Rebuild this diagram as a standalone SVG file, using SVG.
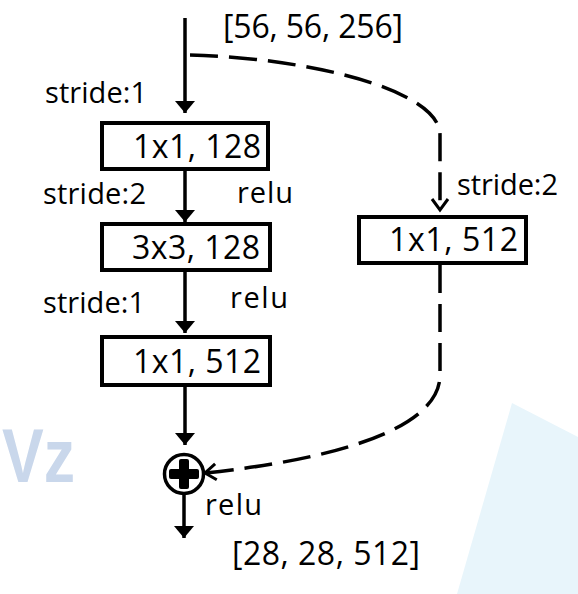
<svg xmlns="http://www.w3.org/2000/svg" width="578" height="594" viewBox="0 0 578 594">
  <style>
    .box { fill: #ffffff; stroke: #000000; stroke-width: 4; }
    .lbl { font-family: "Open Sans", "Noto Sans", sans-serif; font-size: 29px; fill: #000000; }
    .big { font-family: "Open Sans", "Noto Sans", sans-serif; font-size: 32px; fill: #000000; }
    .solid { fill: none; stroke: #000000; stroke-width: 3.5; }
    .dash { fill: none; stroke: #000000; stroke-width: 3.5; stroke-dasharray: 28 11; }
    .wm { font-family: "Liberation Sans", sans-serif; font-weight: bold; font-size: 76px; fill: #c9d7eb; }
  </style>
  <defs>
    <marker id="tri" viewBox="0 0 12 20" refX="12" refY="10" markerWidth="12" markerHeight="20" markerUnits="userSpaceOnUse" orient="auto">
      <path d="M0,0 L12,10 L0,20 Z" fill="#000000"/>
    </marker>
    <marker id="vee" viewBox="0 0 12 18" refX="11" refY="9" markerWidth="12" markerHeight="18" markerUnits="userSpaceOnUse" orient="auto" overflow="visible">
      <path d="M0,1 L11,9 L0,17" fill="none" stroke="#000000" stroke-width="3"/>
    </marker>
  </defs>

  <rect width="578" height="594" fill="#ffffff"/>
  <g id="background">
    <polygon points="512,403 578,437 578,594 457,594" fill="#e8f5fb"/>
    <text class="wm" x="2" y="482" textLength="73" lengthAdjust="spacingAndGlyphs">Vz</text>
  </g>

  <g id="connectors">
    <line class="solid" x1="185" y1="18" x2="185" y2="113" marker-end="url(#tri)"/>
    <line class="solid" x1="185" y1="171" x2="185" y2="222" marker-end="url(#tri)"/>
    <line class="solid" x1="185" y1="272" x2="185" y2="333" marker-end="url(#tri)"/>
    <line class="solid" x1="185" y1="387" x2="185" y2="445" marker-end="url(#tri)"/>
    <line class="solid" x1="184" y1="494" x2="184" y2="538" marker-end="url(#tri)"/>
    <path class="dash" d="M190,55 C310,58 440,90 440,135 L440,210" marker-end="url(#vee)"/>
    <path class="dash" d="M440,265 L440,375 C440,430 330,460 205,473" marker-end="url(#vee)"/>
  </g>

  <g id="input-label">
    <text class="big" x="223" y="38" textLength="180">[56, 56, 256]</text>
  </g>

  <g id="conv1">
    <rect class="box" x="102" y="123" width="166" height="46"/>
    <text class="big" x="133" y="158" textLength="128">1x1, 128</text>
    <text class="lbl" x="45" y="103" textLength="102">stride:1</text>
  </g>

  <g id="conv2">
    <rect class="box" x="102" y="224" width="168" height="46"/>
    <text class="big" x="132" y="259" textLength="128">3x3, 128</text>
    <text class="lbl" x="43" y="204" textLength="103">stride:2</text>
    <text class="lbl" x="237" y="203" textLength="56">relu</text>
  </g>

  <g id="conv3">
    <rect class="box" x="102" y="337" width="168" height="48"/>
    <text class="big" x="133" y="373" textLength="128">1x1, 512</text>
    <text class="lbl" x="43" y="313" textLength="102">stride:1</text>
    <text class="lbl" x="230" y="308" textLength="58">relu</text>
  </g>

  <g id="shortcut-conv">
    <rect class="box" x="359" y="217" width="167" height="46"/>
    <text class="big" x="389" y="251" textLength="129">1x1, 512</text>
    <text class="lbl" x="457" y="195" textLength="101">stride:2</text>
  </g>

  <g id="add">
    <circle cx="184" cy="474" r="19.5" fill="#ffffff" stroke="#000000" stroke-width="3.5"/>
    <rect x="169" y="469" width="30" height="10" rx="2" fill="#000000"/>
    <rect x="179" y="459" width="10" height="30" rx="2" fill="#000000"/>
    <text class="lbl" x="205" y="515" textLength="57">relu</text>
  </g>

  <g id="output-label">
    <text class="big" x="232" y="565" textLength="188">[28, 28, 512]</text>
  </g>
</svg>
